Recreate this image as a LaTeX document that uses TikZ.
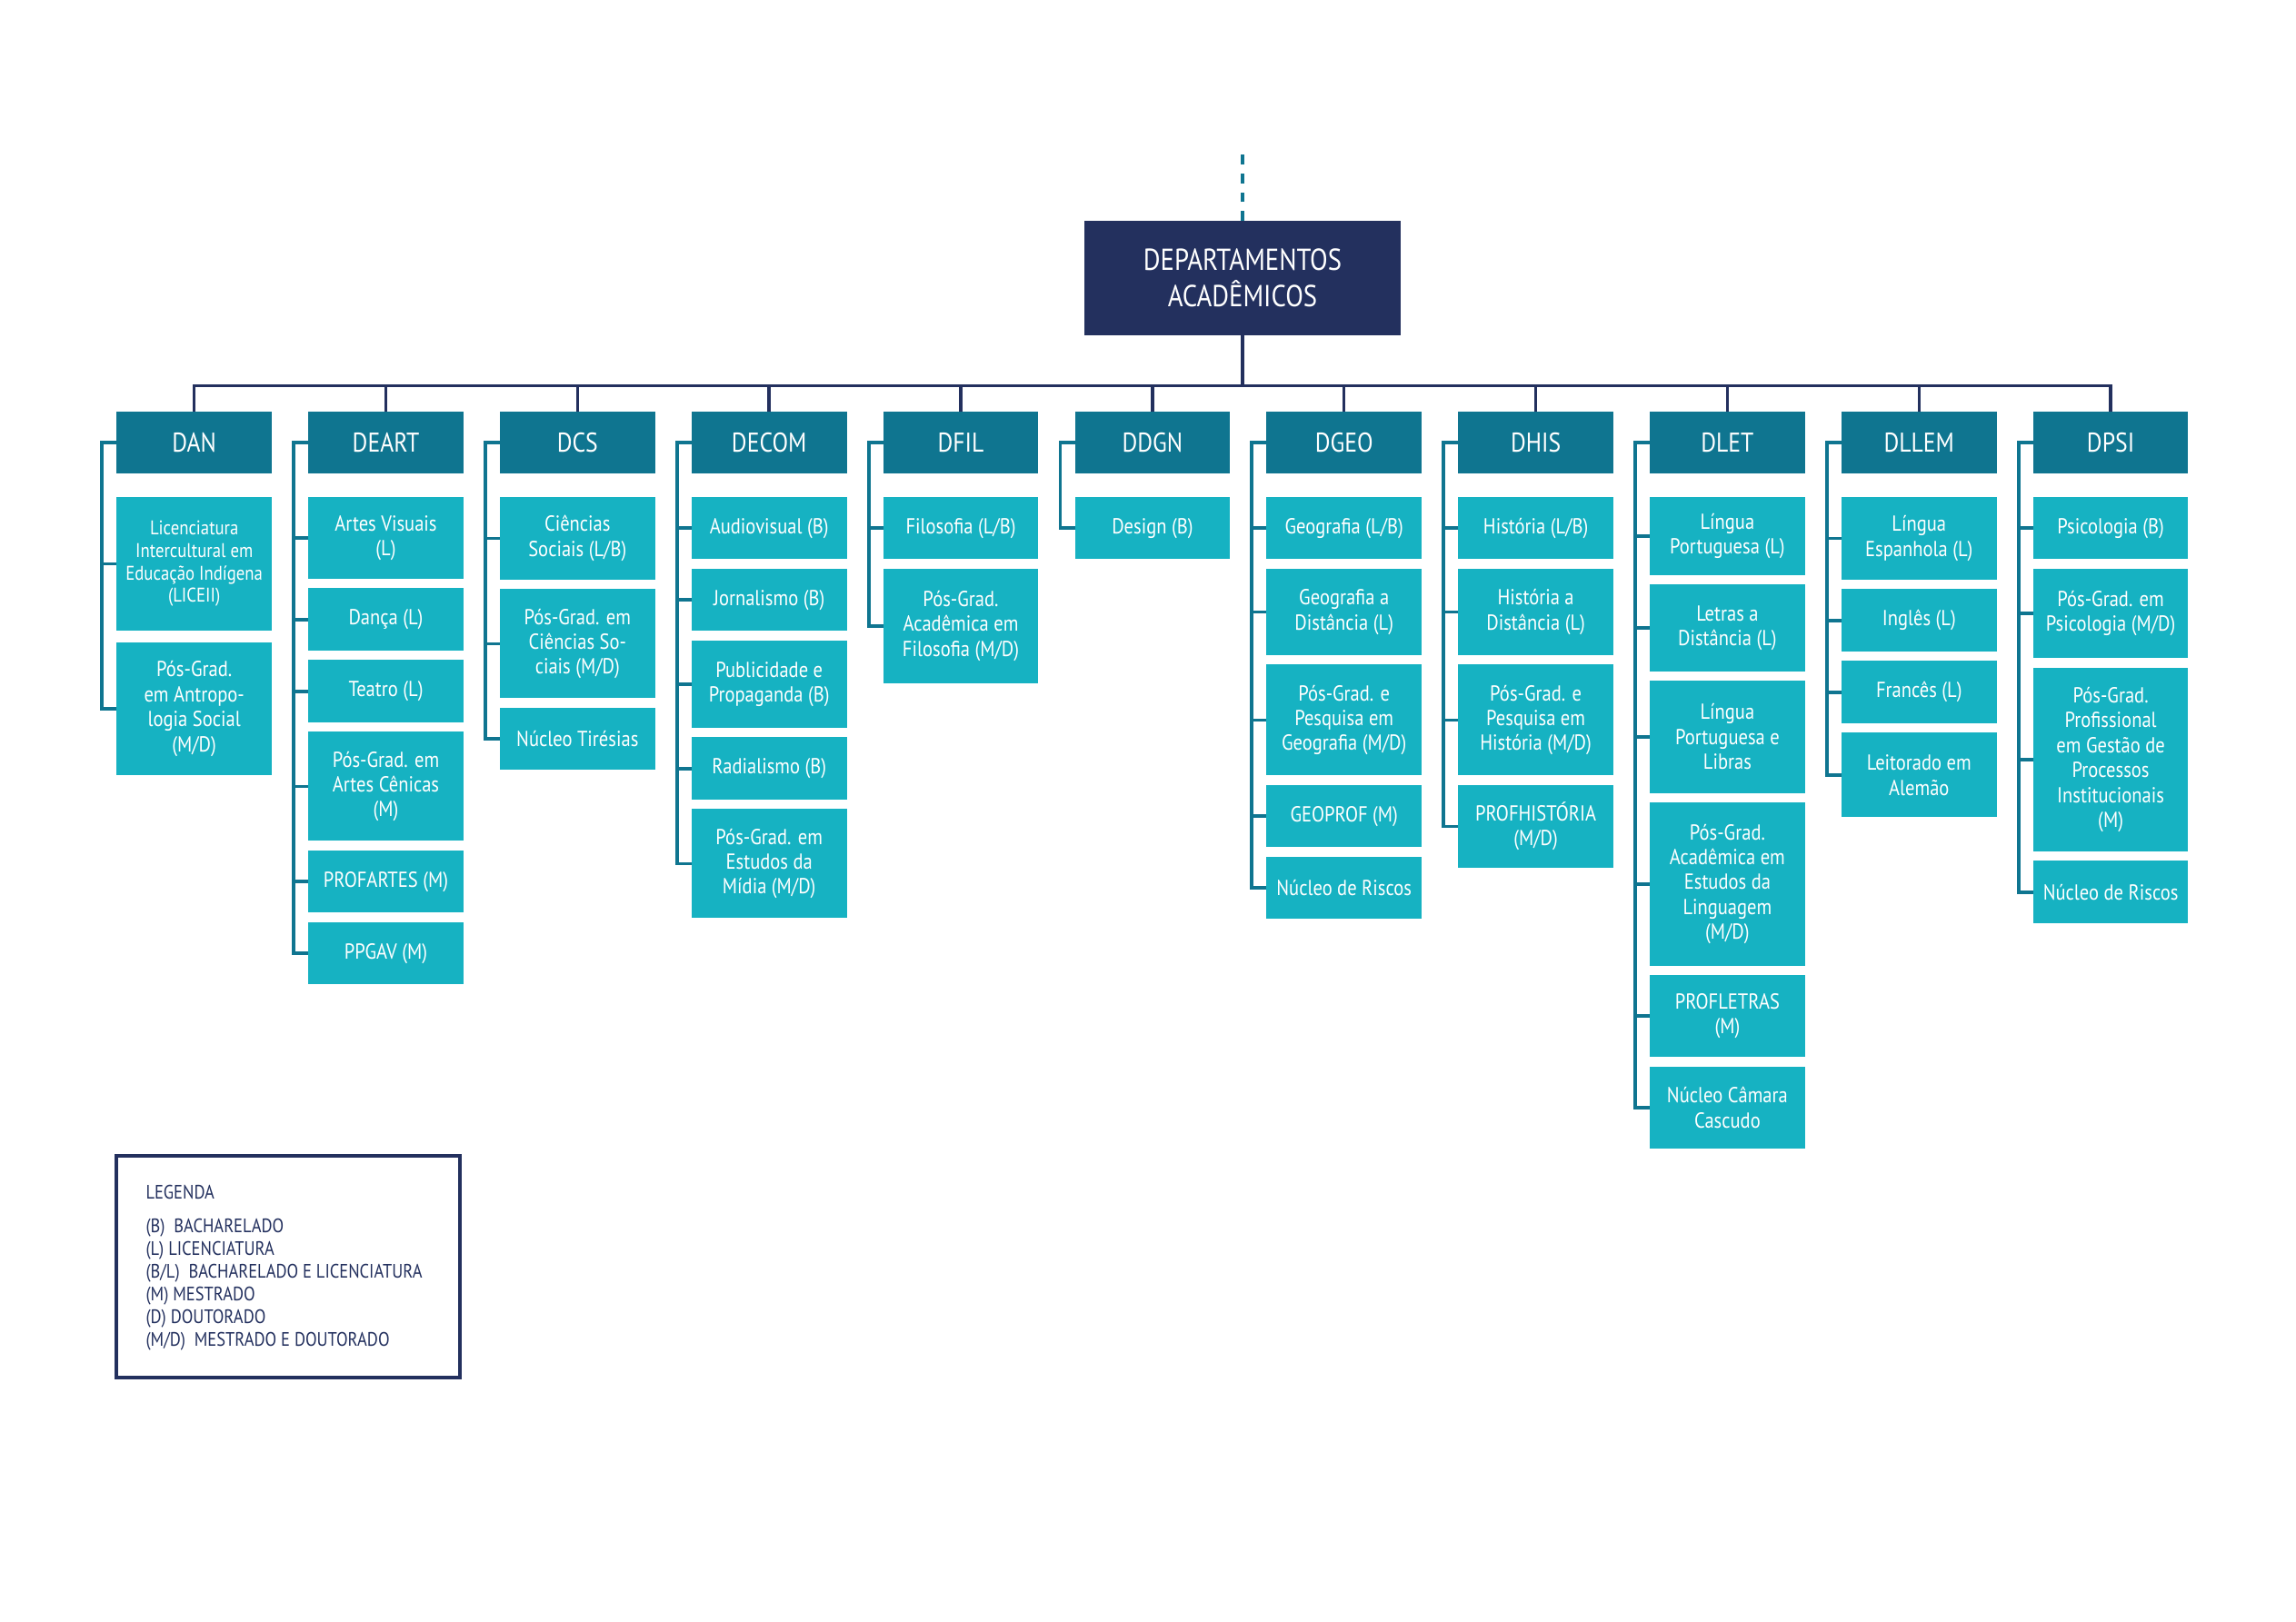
\documentclass[tikz,border=0pt]{standalone}
\usepackage{fontspec}
\setmainfont{PT Sans}[FakeStretch=0.86]
\usetikzlibrary{positioning}
\definecolor{OrgNavy}{HTML}{23305E}
\definecolor{DeptTeal}{HTML}{0F7590}
\definecolor{ProgTeal}{HTML}{16B2C2}

\begin{document}
\begin{tikzpicture}[
        topnode/.style={rectangle, fill=OrgNavy, text=white, align=center, outer sep=0pt, minimum width=3.48cm, minimum height=1.26cm, font=\fontsize{9.5}{11.5}\selectfont},
        deptnode/.style={rectangle, fill=DeptTeal, text=white, outer sep=0pt, minimum width=1.707cm, minimum height=0.68cm, inner sep=0pt, font=\fontsize{8.5}{10}\selectfont},
        prognode/.style={rectangle, fill=ProgTeal, text=white, align=center, outer sep=0pt, minimum width=1.707cm, minimum height=0.685cm, inner sep=0pt, font=\fontsize{6.8}{7.8}\selectfont},
        busline/.style={draw=OrgNavy, line width=1pt},
        bracket/.style={draw=DeptTeal, line width=1.1pt},
        dashline/.style={draw=DeptTeal, line width=1pt, dash pattern=on 0.107cm off 0.1cm},
        legendbox/.style={rectangle, draw=OrgNavy, line width=1.1pt, minimum width=3.777cm, minimum height=2.434cm}
    ]
    \useasboundingbox (0,0) rectangle (25.26,-17.85);

    % --- TOP ---
    \node[topnode] (top) at (13.67,-3.06) {DEPARTAMENTOS\\ACADÊMICOS};
    \coordinate (up) at (13.67,-1.62);
    \draw[dashline] (top.north) -- (up);

    % --- DEPARTMENT HEADERS ---
    \node[deptnode] (dan) at (2.137,-4.87) {DAN};
    \node[deptnode] (deart) at (4.245,-4.87) {DEART};
    \node[deptnode] (dcs) at (6.353,-4.87) {DCS};
    \node[deptnode] (decom) at (8.462,-4.87) {DECOM};
    \node[deptnode] (dfil) at (10.570,-4.87) {DFIL};
    \node[deptnode] (ddgn) at (12.679,-4.87) {DDGN};
    \node[deptnode] (dgeo) at (14.787,-4.87) {DGEO};
    \node[deptnode] (dhis) at (16.896,-4.87) {DHIS};
    \node[deptnode] (dlet) at (19.004,-4.87) {DLET};
    \node[deptnode] (dllem) at (21.113,-4.87) {DLLEM};
    \node[deptnode] (dpsi) at (23.221,-4.87) {DPSI};

    \foreach \d in {dan,deart,dcs,decom,dfil,ddgn,dgeo,dhis,dlet,dllem,dpsi}
        \draw[busline] (top.south) -- ++(0,-0.555) -| (\d.north);

    % --- DAN ---
    \node[prognode, minimum height=1.47cm, font=\fontsize{6.2}{7}\selectfont, below=0.26cm of dan] (dan1) {Licenciatura\\Intercultural em\\Educação Indígena\\(LICEII)};
    \node[prognode, minimum height=1.46cm, below=0.13cm of dan1] (dan2) {Pós-Grad.\\em Antropo-\\logia Social\\(M/D)};
    \foreach \c in {dan1,dan2}
        \draw[bracket] (dan.west) -- ++(-0.16,0) |- (\c.west);

    % --- DEART ---
    \node[prognode, minimum height=0.9cm, below=0.26cm of deart] (deart1) {Artes Visuais\\(L)};
    \node[prognode, below=0.105cm of deart1] (deart2) {Dança (L)};
    \node[prognode, below=0.105cm of deart2] (deart3) {Teatro (L)};
    \node[prognode, minimum height=1.2cm, below=0.105cm of deart3] (deart4) {Pós-Grad. em\\Artes Cênicas\\(M)};
    \node[prognode, below=0.105cm of deart4] (deart5) {PROFARTES (M)};
    \node[prognode, below=0.105cm of deart5] (deart6) {PPGAV (M)};
    \foreach \c in {deart1,deart2,deart3,deart4,deart5,deart6}
        \draw[bracket] (deart.west) -- ++(-0.16,0) |- (\c.west);

    % --- DCS ---
    \node[prognode, minimum height=0.91cm, below=0.26cm of dcs] (dcs1) {Ciências\\Sociais (L/B)};
    \node[prognode, minimum height=1.2cm, below=0.105cm of dcs1] (dcs2) {Pós-Grad. em\\Ciências So-\\ciais (M/D)};
    \node[prognode, below=0.105cm of dcs2] (dcs3) {Núcleo Tirésias};
    \foreach \c in {dcs1,dcs2,dcs3}
        \draw[bracket] (dcs.west) -- ++(-0.16,0) |- (\c.west);

    % --- DECOM ---
    \node[prognode, below=0.26cm of decom] (decom1) {Audiovisual (B)};
    \node[prognode, below=0.105cm of decom1] (decom2) {Jornalismo (B)};
    \node[prognode, minimum height=0.96cm, below=0.105cm of decom2] (decom3) {Publicidade e\\Propaganda (B)};
    \node[prognode, below=0.105cm of decom3] (decom4) {Radialismo (B)};
    \node[prognode, minimum height=1.2cm, below=0.105cm of decom4] (decom5) {Pós-Grad. em\\Estudos da\\Mídia (M/D)};
    \foreach \c in {decom1,decom2,decom3,decom4,decom5}
        \draw[bracket] (decom.west) -- ++(-0.16,0) |- (\c.west);

    % --- DFIL ---
    \node[prognode, below=0.26cm of dfil] (dfil1) {Filosofia (L/B)};
    \node[prognode, minimum height=1.26cm, below=0.105cm of dfil1] (dfil2) {Pós-Grad.\\Acadêmica em\\Filosofia (M/D)};
    \foreach \c in {dfil1,dfil2}
        \draw[bracket] (dfil.west) -- ++(-0.16,0) |- (\c.west);

    % --- DDGN ---
    \node[prognode, below=0.26cm of ddgn] (ddgn1) {Design (B)};
    \draw[bracket] (ddgn.west) -- ++(-0.16,0) |- (ddgn1.west);

    % --- DGEO ---
    \node[prognode, below=0.26cm of dgeo] (dgeo1) {Geografia (L/B)};
    \node[prognode, minimum height=0.95cm, below=0.105cm of dgeo1] (dgeo2) {Geografia a\\Distância (L)};
    \node[prognode, minimum height=1.22cm, below=0.105cm of dgeo2] (dgeo3) {Pós-Grad. e\\Pesquisa em\\Geografia (M/D)};
    \node[prognode, below=0.105cm of dgeo3] (dgeo4) {GEOPROF (M)};
    \node[prognode, below=0.105cm of dgeo4] (dgeo5) {Núcleo de Riscos};
    \foreach \c in {dgeo1,dgeo2,dgeo3,dgeo4,dgeo5}
        \draw[bracket] (dgeo.west) -- ++(-0.16,0) |- (\c.west);

    % --- DHIS ---
    \node[prognode, below=0.26cm of dhis] (dhis1) {História (L/B)};
    \node[prognode, minimum height=0.95cm, below=0.105cm of dhis1] (dhis2) {História a\\Distância (L)};
    \node[prognode, minimum height=1.22cm, below=0.105cm of dhis2] (dhis3) {Pós-Grad. e\\Pesquisa em\\História (M/D)};
    \node[prognode, minimum height=0.91cm, below=0.105cm of dhis3] (dhis4) {PROFHISTÓRIA\\(M/D)};
    \foreach \c in {dhis1,dhis2,dhis3,dhis4}
        \draw[bracket] (dhis.west) -- ++(-0.16,0) |- (\c.west);

    % --- DLET ---
    \node[prognode, minimum height=0.86cm, below=0.26cm of dlet] (dlet1) {Língua\\Portuguesa (L)};
    \node[prognode, minimum height=0.953cm, below=0.105cm of dlet1] (dlet2) {Letras a\\Distância (L)};
    \node[prognode, minimum height=1.233cm, below=0.105cm of dlet2] (dlet3) {Língua\\Portuguesa e\\Libras};
    \node[prognode, minimum height=1.796cm, below=0.105cm of dlet3] (dlet4) {Pós-Grad.\\Acadêmica em\\Estudos da\\Linguagem\\(M/D)};
    \node[prognode, minimum height=0.9cm, below=0.105cm of dlet4] (dlet5) {PROFLETRAS\\(M)};
    \node[prognode, minimum height=0.9cm, below=0.105cm of dlet5] (dlet6) {Núcleo Câmara\\Cascudo};
    \foreach \c in {dlet1,dlet2,dlet3,dlet4,dlet5,dlet6}
        \draw[bracket] (dlet.west) -- ++(-0.16,0) |- (\c.west);

    % --- DLLEM ---
    \node[prognode, minimum height=0.91cm, below=0.26cm of dllem] (dllem1) {Língua\\Espanhola (L)};
    \node[prognode, below=0.105cm of dllem1] (dllem2) {Inglês (L)};
    \node[prognode, below=0.105cm of dllem2] (dllem3) {Francês (L)};
    \node[prognode, minimum height=0.93cm, below=0.105cm of dllem3] (dllem4) {Leitorado em\\Alemão};
    \foreach \c in {dllem1,dllem2,dllem3,dllem4}
        \draw[bracket] (dllem.west) -- ++(-0.16,0) |- (\c.west);

    % --- DPSI ---
    \node[prognode, below=0.26cm of dpsi] (dpsi1) {Psicologia (B)};
    \node[prognode, minimum height=0.985cm, below=0.105cm of dpsi1] (dpsi2) {Pós-Grad. em\\Psicologia (M/D)};
    \node[prognode, minimum height=2.02cm, below=0.105cm of dpsi2] (dpsi3) {Pós-Grad.\\Profissional\\em Gestão de\\Processos\\Institucionais\\(M)};
    \node[prognode, below=0.105cm of dpsi3] (dpsi4) {Núcleo de Riscos};
    \foreach \c in {dpsi1,dpsi2,dpsi3,dpsi4}
        \draw[bracket] (dpsi.west) -- ++(-0.16,0) |- (\c.west);

    % --- LEGEND ---
    \node[legendbox] (legend) at (3.172,-13.94) {};
    \node[anchor=north west, align=left, inner sep=0pt, text=OrgNavy, font=\fontsize{6.1}{7.1}\selectfont] (legtext) at ([xshift=0.334cm, yshift=-0.334cm]legend.north west) {
        LEGENDA\\[3.3pt]
        (B)\ \ BACHARELADO\\
        (L) LICENCIATURA\\
        (B/L)\ \ BACHARELADO E LICENCIATURA\\
        (M) MESTRADO\\
        (D) DOUTORADO\\
        (M/D)\ \ MESTRADO E DOUTORADO
    };

\end{tikzpicture}
\end{document}
